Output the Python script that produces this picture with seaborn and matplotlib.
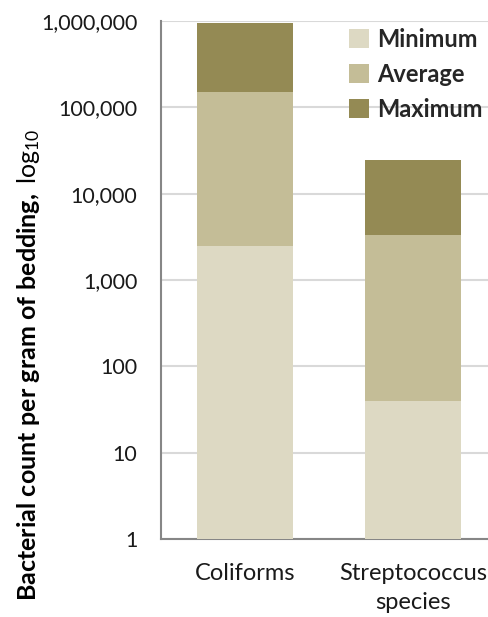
import matplotlib
matplotlib.use("Agg")
import matplotlib.pyplot as plt
from matplotlib.patches import Patch
from matplotlib.ticker import FixedLocator, FuncFormatter, NullLocator
import seaborn as sns
import pandas as pd

# Bacterial counts per gram of bedding
categories = ["Coliforms", "Streptococcus\nspecies"]
minimum = [2500, 40]
average = [150000, 3300]
maximum = [950000, 24500]
series_names = ["Minimum", "Average", "Maximum"]
y_ticks = [1, 10, 100, 1000, 10000, 100000, 1000000]

colors = {"Minimum": "#DDD9C3", "Average": "#C4BD97", "Maximum": "#948A54"}

sns.set_theme(style="white")
plt.rcParams["font.family"] = ["Lato", "DejaVu Sans"]
plt.rcParams["mathtext.fontset"] = "custom"
plt.rcParams["mathtext.rm"] = "Lato"
plt.rcParams["mathtext.bf"] = "Lato:bold"
plt.rcParams["mathtext.it"] = "Lato:italic"

df = pd.DataFrame({"category": categories,
                   "Minimum": minimum, "Average": average, "Maximum": maximum})

fig = plt.figure(figsize=(4.88, 6.17), dpi=100)
W, H = 488, 617
left, right, top, bottom = 161, 497, 21, 539
ax = fig.add_axes([left / W, 1 - bottom / H, (right - left) / W, (bottom - top) / H])

# overlapping bars: tallest first so the smaller values sit in front
for name in ["Maximum", "Average", "Minimum"]:
    sns.barplot(data=df, x="category", y=name, color=colors[name],
                width=0.57, ax=ax, saturation=1, linewidth=0, zorder=3)

ax.set_yscale("log")
ax.set_ylim(1, 1e6)
ax.set_xlim(-0.5, 1.5)
ax.yaxis.set_major_locator(FixedLocator(y_ticks))
ax.yaxis.set_minor_locator(NullLocator())
ax.yaxis.set_major_formatter(FuncFormatter(lambda v, p: f"{v:,.0f}"))
ax.grid(axis="y", color="#D9D9D9", linewidth=1.5, zorder=0)
ax.set_axisbelow(True)

for s in ["top", "right"]:
    ax.spines[s].set_visible(False)
for s in ["left", "bottom"]:
    ax.spines[s].set_color("#868686")
    ax.spines[s].set_linewidth(1.5)

ax.tick_params(axis="y", length=0, pad=17, labelsize=15.5, labelcolor="#1a1a1a")
ax.tick_params(axis="x", length=0, pad=17, labelsize=17, labelcolor="#1a1a1a")
for lab in ax.get_xticklabels():
    lab.set_linespacing(1.5)
ax.set_xlabel("")
ax.set_ylabel("")

fig.text(29 / W, 1 - 365 / H,
         r"$\mathbf{Bacterial\ count\ per\ gram\ of\ bedding,}$ log$_{10}$",
         rotation=90, ha="center", va="center", fontsize=18, color="#000000")

handles = [Patch(facecolor=colors[n], edgecolor="none") for n in series_names]
leg = fig.legend(handles, series_names, loc="upper left",
                 bbox_to_anchor=(349 / W, 1 - 28 / H), frameon=False,
                 handlelength=0.85, handleheight=0.85, handletextpad=0.35,
                 labelspacing=0.5, borderpad=0, borderaxespad=0,
                 prop={"family": ["Lato", "DejaVu Sans"], "weight": "bold", "size": 17})

fig.savefig("out.png", dpi=100)
